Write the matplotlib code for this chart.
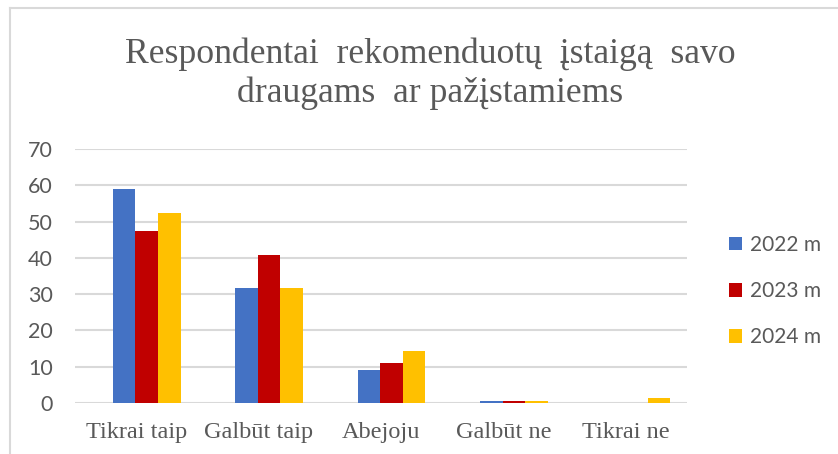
import matplotlib
matplotlib.use("Agg")
import matplotlib.pyplot as plt
from matplotlib.lines import Line2D
import numpy as np

categories = ["Tikrai taip", "Galbūt taip", "Abejoju", "Galbūt ne", "Tikrai ne"]
series_names = ["2022 m", "2023 m", "2024 m"]
v2022 = [59.1, 31.8, 9.1, 0.5, 0.0]
v2023 = [47.4, 40.9, 10.9, 0.5, 0.0]
v2024 = [52.3, 31.8, 14.4, 0.5, 1.4]
colors = ["#4472C4", "#C00000", "#FFC000"]
yticks = [0, 10, 20, 30, 40, 50, 60, 70]
title = "Respondentai  rekomenduotų  įstaigą  savo\ndraugams  ar pažįstamiems"

W, H = 838, 454
fig = plt.figure(figsize=(W / 100, H / 100), dpi=100)
fig.patch.set_facecolor("white")

# chart border (left and top visible)
fig.add_artist(Line2D([10 / W, 10 / W], [0, 1 - 8 / H], transform=fig.transFigure,
                      color="#d9d9d9", lw=1.5))
fig.add_artist(Line2D([10 / W, 1], [1 - 8 / H, 1 - 8 / H], transform=fig.transFigure,
                      color="#d9d9d9", lw=1.5))

left, right = 75, 687
top, bottom = 149, 403
ax = fig.add_axes([left / W, 1 - bottom / H, (right - left) / W, (bottom - top) / H])

x = np.arange(len(categories))
bw = 0.185
for i, (vals, name, c) in enumerate(zip([v2022, v2023, v2024], series_names, colors)):
    ax.bar(x + (i - 1) * bw, vals, width=bw, color=c, label=name, zorder=3)

unit = 122.4
x0 = -(146.7 - left) / unit
ax.set_xlim(x0, x0 + (right - left) / unit)
ax.set_ylim(0, 70)
ax.set_yticks(yticks)
ax.yaxis.grid(True, color="#d9d9d9", lw=1.5, zorder=0)
ax.set_axisbelow(True)
for s in ax.spines.values():
    s.set_visible(False)
ax.tick_params(axis="both", length=0)
ax.tick_params(axis="y", pad=16, labelsize=15.5, labelcolor="#595959")
for lab in ax.get_yticklabels():
    lab.set_fontfamily("Lato")
label_shift = (146.7 - 136.2) / unit
ax.set_xticks(x - label_shift)
ax.set_xticklabels(categories, fontfamily="Liberation Serif", fontsize=17.5, color="#595959")
ax.tick_params(axis="x", pad=14)

fig.text(430 / W, 1 - 101.7 / H, title, ha="center", va="baseline",
         fontfamily="Liberation Serif", fontsize=25.7, color="#595959", linespacing=1.2)

leg = ax.legend(loc="upper left", bbox_to_anchor=(729 / W, 1 - 235 / H),
                bbox_transform=fig.transFigure, frameon=False,
                prop={"family": "Lato", "size": 15}, labelcolor="#595959",
                handlelength=0.63, handleheight=0.63, handletextpad=0.4,
                labelspacing=1.25, borderpad=0, borderaxespad=0)

fig.savefig("out.png", dpi=100, facecolor="white")
